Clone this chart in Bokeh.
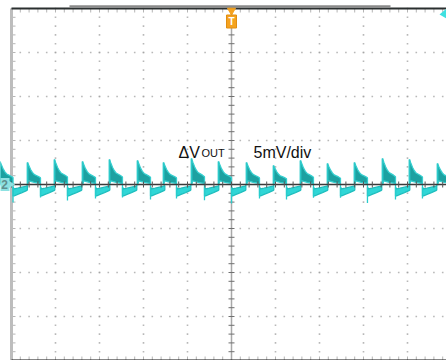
import numpy as np
from bokeh.plotting import figure
from bokeh.models import Range1d
from bokeh.core.properties import value
from bokeh.embed import file_html
from bokeh.resources import INLINE

# Channel 2 output ripple, 5 mV/div; horizontal positions in divisions from centre
MV_PER_DIV = 5.0

# rising edge of each ripple cycle (div)
rise_div = [-5.26, -4.636, -4.023, -3.386, -2.773, -2.136, -1.545, -0.909,
            -0.295, 0.341, 0.955, 1.568, 2.182, 2.795, 3.432, 4.045, 4.682]
# peak of each positive step (mV)
peak_mv = [2.6, 2.5, 2.84, 2.61, 2.84, 2.73, 2.5, 2.95, 2.61,
           2.5, 2.16, 2.73, 2.39, 2.5, 2.95, 2.84, 2.39]
# negative spike at each falling edge (mV)
dip_mv = [-2.05, -1.48, -1.82, -1.59, -1.48, -1.7, -1.6, -1.8, -2.16,
          -1.6, -1.7, -1.5, -1.5, -2.1, -1.7, -1.6, -1.7]

# shape of one cycle: positive half (decaying step)
pos_dt = [0.0, 0.03, 0.07, 0.11, 0.15, 0.2, 0.25, 0.295]
pos_top_frac = [1.0, 0.86, 0.68, 0.55, 0.46, 0.41, 0.36, 0.3]
pos_bot_mv = [0.0, 0.4, 0.35, 0.3, 0.25, 0.2, 0.15, 0.1]
# negative half (recovering)
neg_dt = [0.295, 0.32, 0.4, 0.5, 0.6, 0.621]
neg_top_mv = [-0.3, -0.5, -0.42, -0.3, -0.18, -0.12]
neg_bot_mv = [-1.3, -1.3, -1.12, -0.92, -0.7, -0.62]

PX = 44.0  # pixels per division


def dx(px):
    return (px - 231) / PX


def dy(py):
    return (184 - py) / PX


p = figure(width=446, height=360, output_backend="svg", toolbar_location=None,
           x_range=Range1d(dx(0), dx(446)), y_range=Range1d(dy(360), dy(0)),
           x_axis_location=None, y_axis_location=None, min_border=0)
p.grid.visible = False
p.outline_line_color = None
p.background_fill_color = "white"
p.border_fill_color = "white"

# --- graticule -------------------------------------------------------------
fine_y = np.round(np.arange(-4, 4.001, 0.2), 3)
fine_x = np.round(np.arange(-5, 5.001, 0.2), 3)
gx, gy = [], []
for d in [-4, -3, -2, -1, 1, 2, 3, 4]:
    gx += [d] * len(fine_y)
    gy += list(fine_y)
for v in [-3, -2, -1, 1, 2, 3]:
    gx += list(fine_x)
    gy += [v] * len(fine_x)
p.scatter(gx, gy, marker="square", size=1.6, fill_color="#a0a0a0",
          line_color=None, fill_alpha=0.75)

# frame ticks
t = 4 / PX
p.segment(x0=[-5] * len(fine_y), y0=list(fine_y), x1=[-5 + t] * len(fine_y),
          y1=list(fine_y), line_color="#b5b5b5", line_width=1)
p.segment(x0=list(fine_x), y0=[4] * len(fine_x), x1=list(fine_x),
          y1=[4 - t] * len(fine_x), line_color="#b5b5b5", line_width=1)
p.segment(x0=list(fine_x), y0=[-4] * len(fine_x), x1=list(fine_x),
          y1=[-4 + t] * len(fine_x), line_color="#b5b5b5", line_width=1)

# vertical centre axis with ticks
p.line([0, 0], [-4, 4], line_color="#a8a8a8", line_width=1.5)
c = 3 / PX
p.segment(x0=[-c] * len(fine_y), y0=list(fine_y), x1=[c] * len(fine_y),
          y1=list(fine_y), line_color="#707070", line_width=1)

# frame
p.line([-5, -5], [-4, 4], line_color="#bdbdbd", line_width=3)
p.line([-5, 5.2], [4, 4], line_color="#2a2f2f", line_width=2)
p.line([-5, 5.2], [-4, -4], line_color="#111111", line_width=2)
p.line([dx(69), dx(390)], [dy(6), dy(6)], line_color="#8a8a8a", line_width=2.5)

# --- ripple trace ----------------------------------------------------------
for i, r in enumerate(rise_div):
    pk = peak_mv[i]
    top = [pk * f / MV_PER_DIV for f in pos_top_frac]
    bot = [b / MV_PER_DIV for b in pos_bot_mv]
    xs = [r + t_ for t_ in pos_dt]
    p.patch(xs + xs[::-1], top + bot[::-1], fill_color="#109c9c",
            line_color="#35cfcf", line_width=1.3, fill_alpha=0.95)
    p.line([r, r], [neg_top_mv[-1] / MV_PER_DIV, pk / MV_PER_DIV],
           line_color="#2cc9c9", line_width=1.6)

    xn = [r + t_ for t_ in neg_dt]
    nt = [m / MV_PER_DIV for m in neg_top_mv]
    nb = [m / MV_PER_DIV for m in neg_bot_mv]
    p.patch(xn + xn[::-1], nt + nb[::-1], fill_color="#2fd6d6",
            line_color="#1fbdbd", line_width=1.2)
    fall = r + pos_dt[-1]
    p.line([fall, fall], [bot[-1], dip_mv[i] / MV_PER_DIV],
           line_color="#28cccc", line_width=1.3)

# horizontal centre axis on top of trace
p.line([-5, 5.2], [0, 0], line_color="#3a3a3a", line_width=1.3)
p.segment(x0=list(fine_x), y0=[-c] * len(fine_x), x1=list(fine_x),
          y1=[c] * len(fine_x), line_color="#555555", line_width=1)

# --- annotations ------------------------------------------------------------
font = value("Liberation Sans")
p.text(x=[dx(178)], y=[dy(152)], text=["ΔV"], text_font=font,
       text_font_size="16px", text_color="#111111", text_baseline="alphabetic")
p.text(x=[dx(201)], y=[dy(152)], text=["OUT"], text_font=font,
       text_font_size="11px", text_color="#111111", text_baseline="alphabetic")
p.text(x=[dx(253)], y=[dy(152)], text=["5mV/div"], text_font=font,
       text_font_size="16px", text_color="#111111", text_baseline="alphabetic")

# trigger marker
p.scatter([dx(231)], [dy(10)], marker="inverted_triangle", size=8,
          fill_color="#f5a21f", line_color="#f5a21f")
p.rect([dx(231)], [dy(21)], width=10, height=13, width_units="screen",
       height_units="screen", fill_color="#f5a21f", line_color="#e08e10")
p.text([dx(231)], [dy(21)], text=["T"], text_font=font, text_font_size="10px",
       text_font_style="bold", text_color="white", text_align="center",
       text_baseline="middle")

# channel 2 level marker
p.rect([dx(4)], [dy(184)], width=10, height=13, width_units="screen",
       height_units="screen", fill_color="#8de2e2", line_color=None)
p.scatter([dx(10)], [dy(184)], marker="triangle", angle=-np.pi / 2, size=8,
          fill_color="#8de2e2", line_color=None)
p.text([dx(4)], [dy(184)], text=["2"], text_font=font, text_font_size="12px",
       text_font_style="bold", text_color="#5f8f8f", text_align="center",
       text_baseline="middle")

# off-screen indicator, top right
p.patch([dx(446), dx(439), dx(446)], [dy(8), dy(14), dy(18)],
        fill_color="#3fe0e0", line_color=None)

open("out.html", "w").write(file_html(p, INLINE))
